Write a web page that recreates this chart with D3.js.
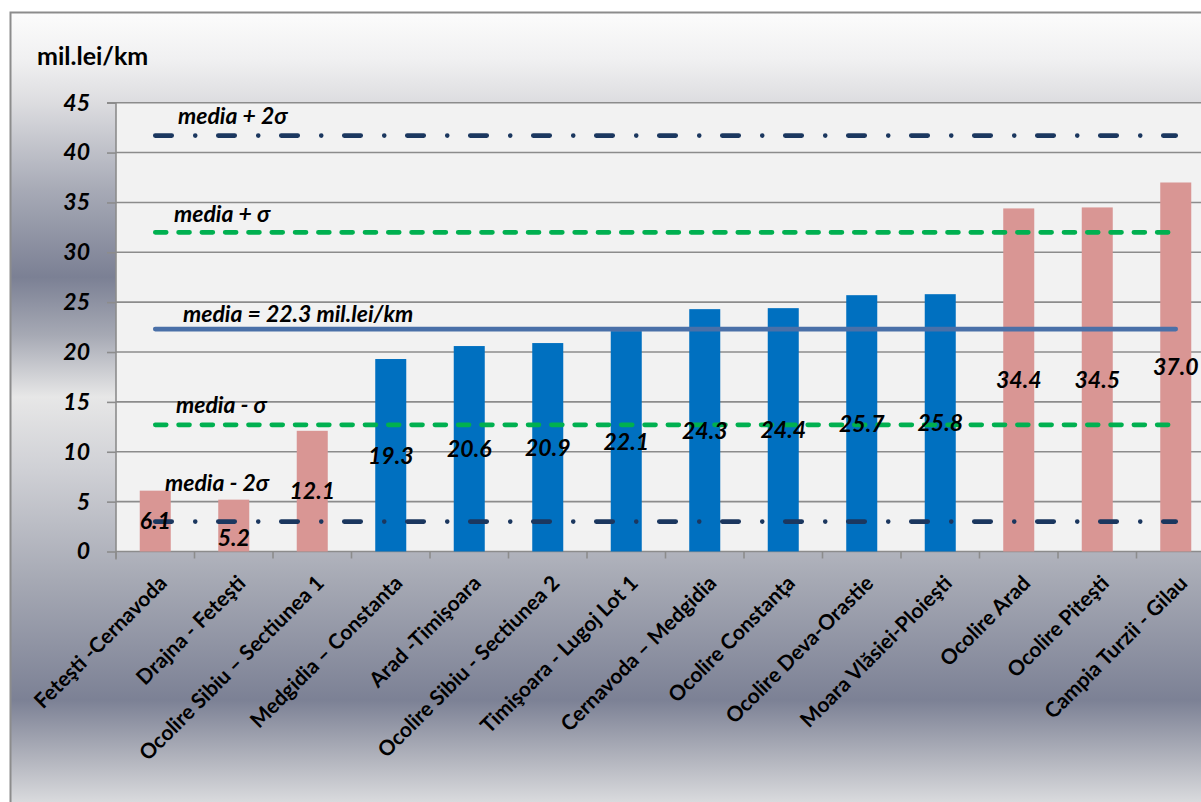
<!DOCTYPE html>
<html>
<head>
<meta charset="utf-8">
<script src="https://cdn.jsdelivr.net/npm/d3@7"></script>
<style>
  html, body { margin: 0; padding: 0; background: #ffffff; }
  svg { display: block; font-family: Lato, "Open Sans", sans-serif; }
</style>
</head>
<body>
<svg id="chart" width="1201" height="802"></svg>
<script>
// ---- data ----
const categories = [
  "Feteşti -Cernavoda", "Drajna - Feteşti", "Ocolire Sibiu – Sectiunea 1",
  "Medgidia – Constanta", "Arad -Timişoara", "Ocolire Sibiu - Sectiunea 2",
  "Timişoara - Lugoj Lot 1", "Cernavoda – Medgidia", "Ocolire Constanţa",
  "Ocolire Deva-Orastie", "Moara Vlăsiei-Ploieşti", "Ocolire Arad",
  "Ocolire Piteşti", "Campia Turzii - Gilau"
];
const values = [6.1, 5.2, 12.1, 19.3, 20.6, 20.9, 22.1, 24.3, 24.4, 25.7, 25.8, 34.4, 34.5, 37.0];
const yTicks = [0, 5, 10, 15, 20, 25, 30, 35, 40, 45];
const refValues = [41.7, 32.0, 22.3, 12.7, 3.0];
const refLabels = ["media + 2σ", "media + σ", "media = 22.3 mil.lei/km", "media - σ", "media - 2σ"];
const refKinds = ["dashdot", "dash", "solid", "dash", "dashdot"];
const yUnit = "mil.lei/km";

// ---- layout / style ----
const svg = d3.select("#chart");
const plotLeft = 116, plotRight = 1215, plotTop = 102.7, plotBottom = 551.5;
const colPink = "#d99694", colBlue = "#0070c0";
const colNavy = "#1b375f", colGreen = "#00b050", colMean = "#4a70a8";
const fontFam = "Lato, 'Open Sans', sans-serif";

// background gradient
const defs = svg.append("defs");
const grad = defs.append("linearGradient").attr("id", "bg")
  .attr("gradientUnits", "userSpaceOnUse")
  .attr("x1", 0).attr("y1", 12).attr("x2", 0).attr("y2", 802);
[[12, "#fcfcfc"], [60, "#f0f0f1"], [100, "#dedee1"], [190, "#a7aab6"], [277, "#7b8094"],
 [335, "#a6a9b4"], [397, "#e7e7e7"], [470, "#cfd0d5"], [580, "#a6a9b4"], [700, "#7c8195"],
 [760, "#b3b5be"], [802, "#d9dadd"]].forEach(([y, c]) => {
  grad.append("stop").attr("offset", ((y - 12) / 790)).attr("stop-color", c);
});
svg.append("rect").attr("x", 10.5).attr("y", 12.5).attr("width", 1220).attr("height", 820)
  .attr("fill", "url(#bg)").attr("stroke", "#8c8c8c").attr("stroke-width", 2);

// scales
const pad = 0.605;
const x = d3.scaleBand().domain(categories).range([plotLeft, plotRight])
  .paddingInner(pad).paddingOuter(pad / 2);
const y = d3.scaleLinear().domain([0, 45]).range([plotBottom, plotTop]);
const step = x.step();

// plot area
svg.append("rect").attr("x", plotLeft).attr("y", plotTop)
  .attr("width", plotRight - plotLeft).attr("height", plotBottom - plotTop)
  .attr("fill", "#f2f2f2");

// gridlines
svg.append("g").selectAll("line").data(yTicks.filter(t => t > 0)).join("line")
  .attr("x1", plotLeft).attr("x2", plotRight)
  .attr("y1", d => y(d)).attr("y2", d => y(d))
  .attr("stroke", "#8c8c8c").attr("stroke-width", 1.6);

// y axis
const yAxis = d3.axisLeft(y).tickValues(yTicks).tickSize(9).tickPadding(17).tickFormat(d3.format("d"));
const gy = svg.append("g").attr("transform", `translate(${plotLeft},0)`).call(yAxis);
gy.select(".domain").attr("stroke", "#8c8c8c").attr("stroke-width", 1.6)
  .attr("d", `M-9,${plotTop}H0V${plotBottom + 8}`);
gy.selectAll(".tick line").attr("stroke", "#8c8c8c").attr("stroke-width", 1.6);
gy.selectAll(".tick text").attr("fill", "#000").style("font-family", fontFam)
  .style("font-size", "23px").style("font-weight", "bold").style("font-style", "italic");

// x axis (ticks on category boundaries)
svg.append("line").attr("x1", plotLeft).attr("x2", plotRight)
  .attr("y1", plotBottom).attr("y2", plotBottom)
  .attr("stroke", "#8c8c8c").attr("stroke-width", 1.6);
svg.append("g").selectAll("line").data(categories).join("line")
  .attr("x1", d => x(d) - step * pad / 2).attr("x2", d => x(d) - step * pad / 2)
  .attr("y1", plotBottom).attr("y2", plotBottom + 7)
  .attr("stroke", "#8c8c8c").attr("stroke-width", 1.6);

// x labels
svg.append("g").selectAll("text").data(categories).join("text")
  .attr("transform", d => `translate(${x(d) + x.bandwidth() / 2 + 13},${plotBottom + 33}) rotate(-45)`)
  .attr("text-anchor", "end")
  .style("font-family", fontFam).style("font-size", "21px").style("font-weight", "bold")
  .attr("fill", "#000")
  .text(d => d);

// bars
const lo = refValues[3], hi = refValues[1];
svg.append("g").selectAll("rect").data(values).join("rect")
  .attr("x", (d, i) => x(categories[i]))
  .attr("width", x.bandwidth())
  .attr("y", d => y(d))
  .attr("height", d => y(0) - y(d))
  .attr("fill", d => (d < lo || d > hi) ? colPink : colBlue);

// reference lines
const x0 = x(categories[0]) + x.bandwidth() / 2;
const x1 = x(categories[categories.length - 1]) + x.bandwidth() / 2;
const dashes = { dashdot: "16.5,23.5,0,23", dash: "11,12.3", solid: null };
const colors = { dashdot: colNavy, dash: colGreen, solid: colMean };
svg.append("g").selectAll("line").data(refValues).join("line")
  .attr("x1", x0).attr("x2", x1)
  .attr("y1", d => y(d)).attr("y2", d => y(d))
  .attr("stroke", (d, i) => colors[refKinds[i]])
  .attr("stroke-width", 4.6)
  .attr("stroke-linecap", "round")
  .attr("stroke-dasharray", (d, i) => dashes[refKinds[i]]);

// reference labels (manually placed text boxes in the original)
const refLabelPos = [[178, 12], [174, 10], [183, 7], [176, 12], [165, 31]];
svg.append("g").selectAll("text").data(refLabels).join("text")
  .attr("x", (d, i) => refLabelPos[i][0])
  .attr("y", (d, i) => y(refValues[i]) - refLabelPos[i][1])
  .style("font-family", fontFam).style("font-size", "23px")
  .style("font-weight", "bold").style("font-style", "italic")
  .attr("fill", "#000")
  .text(d => d);

// data labels (centered in bar; second one sits at the bar base)
svg.append("g").selectAll("text").data(values).join("text")
  .attr("x", (d, i) => x(categories[i]) + x.bandwidth() / 2)
  .attr("y", (d, i) => i === 1 ? y(0) - 14 : y(d / 2))
  .attr("dy", "0.36em")
  .attr("text-anchor", "middle")
  .style("font-family", fontFam).style("font-size", "23px")
  .style("font-weight", "bold").style("font-style", "italic")
  .attr("fill", "#000")
  .text(d => d.toFixed(1));

// y unit title
svg.append("text").attr("x", 37).attr("y", 65)
  .style("font-family", fontFam).style("font-size", "25px").style("font-weight", "bold")
  .attr("fill", "#000").text(yUnit);
</script>
</body>
</html>
